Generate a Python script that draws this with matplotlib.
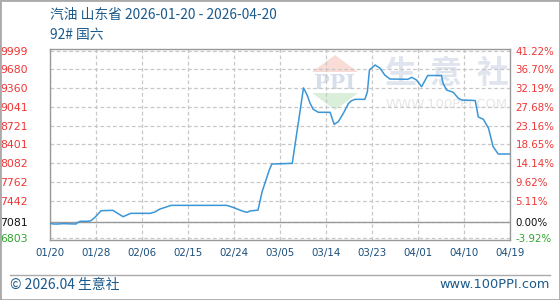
import matplotlib.pyplot as plt
from matplotlib.patches import Polygon, Rectangle
from matplotlib.lines import Line2D

plt.rcParams['font.family'] = ['Noto Sans CJK SC', 'DejaVu Sans']

title = '汽油 山东省 2026-01-20 - 2026-04-20'
subtitle = '92# 国六'

x_labels = ['01/20', '01/28', '02/06', '02/15', '02/24', '03/05',
            '03/14', '03/23', '04/01', '04/10', '04/19']
x_ticks = [0, 9, 18, 27, 36, 45, 54, 63, 72, 81, 90]

y_ticks = [6803, 7081, 7442, 7762, 8082, 8401, 8721, 9041, 9360, 9680, 9999]
pct_labels = ['-3.92%', '0.00%', '5.11%', '9.62%', '14.14%', '18.65%',
              '23.16%', '27.68%', '32.19%', '36.70%', '41.22%']
base_price = 7081

# position along the axis (trading-day index from 01/20) and price
days = [0, 0.6, 1.6, 2.5, 5.1, 5.3, 5.9, 7.4, 8.0, 8.5, 8.8, 10.0, 12.3,
        14.3, 15.8, 19.6, 20.5, 21.5, 22.7, 23.7, 34.6, 35.8, 36.8, 37.8,
        38.6, 39.1, 40.3, 40.7, 41.5, 42.9, 43.4, 47.4, 49.6, 50.3, 50.9,
        51.5, 52.5, 54.8, 55.6, 56.4, 57.4, 58.4, 59.0, 59.7, 61.6, 62.1,
        62.5, 63.6, 64.6, 65.5, 66.5, 70.0, 70.8, 71.7, 72.7, 73.9, 76.6,
        76.9, 77.6, 78.9, 79.9, 80.5, 83.2, 83.8, 84.8, 85.8, 86.7, 87.7, 90]
price = [7054, 7042, 7042, 7048, 7042, 7059, 7088, 7088, 7098, 7133, 7156,
         7269, 7275, 7167, 7224, 7224, 7246, 7297, 7331, 7360, 7360, 7326,
         7292, 7258, 7241, 7264, 7275, 7280, 7593, 7963, 8065, 8077, 9365,
         9243, 9101, 8999, 8948, 8948, 8743, 8787, 8931, 9101, 9146, 9169,
         9169, 9300, 9670, 9755, 9699, 9584, 9516, 9511, 9545, 9499, 9385,
         9576, 9576, 9442, 9328, 9289, 9187, 9158, 9149, 8868, 8828, 8675,
         8361, 8236, 8236]

W, H = 560, 300


def fx(px):
    return px / W


def fy(py):
    return 1 - py / H


def main():
    fig = plt.figure(figsize=(5.6, 3.0), dpi=100)
    ax = fig.add_axes([fx(50), fy(240), fx(510) - fx(50), fy(49.3) - fy(240)])
    ax.set_facecolor('none')

    ax.set_xlim(0, 90)
    ax.set_ylim(6769, 10023)
    ax.set_axisbelow(True)

    ax.plot(days, price, color='#3a96d6', lw=1.1, zorder=3)
    ax.axhline(base_price, color='#999999', lw=1.0, zorder=2)

    ax.set_xticks(x_ticks)
    ax.set_xticklabels(x_labels, family='DejaVu Sans', fontsize=7.4,
                       color='#1b4f7c')
    ax.set_yticks(y_ticks)
    ax.set_yticklabels([str(v) for v in y_ticks], family='DejaVu Sans',
                       fontsize=7.8)
    ax.tick_params(axis='x', length=0, pad=6)
    ax.tick_params(axis='y', length=0, pad=16)
    ax.grid(True, color='#c8c8c8', ls=(0, (3, 2)), lw=0.9)

    for sp in ax.spines.values():
        sp.set_color('#999999')
        sp.set_linewidth(1.0)

    ax2 = ax.twinx()
    ax2.set_ylim(ax.get_ylim())
    ax2.set_yticks(y_ticks)
    ax2.set_yticklabels(pct_labels, family='DejaVu Sans', fontsize=7.4)
    ax2.tick_params(axis='y', length=0, pad=4)
    for sp in ax2.spines.values():
        sp.set_visible(False)

    def colour(v):
        if v < base_price:
            return '#2ea52e'
        if v == base_price:
            return '#111111'
        return '#f03535'

    for lab, v in zip(ax.get_yticklabels(), y_ticks):
        lab.set_color(colour(v))
    for lab, v in zip(ax2.get_yticklabels(), y_ticks):
        lab.set_color(colour(v))

    # watermark logo
    tf = fig.transFigure
    ax.add_patch(Polygon([(fx(312), fy(72)), (fx(335), fy(55)),
                          (fx(358), fy(72))], closed=True, transform=tf,
                         fc='#f9dcd6', ec='none', zorder=0.1))
    ax.add_patch(Polygon([(fx(312), fy(93)), (fx(358), fy(93)),
                          (fx(335), fy(110))], closed=True, transform=tf,
                         fc='#d9efda', ec='none', zorder=0.1))
    ax.text(fx(335), fy(83), 'PPI', transform=tf, ha='center', va='center',
            fontsize=15, family='DejaVu Serif', weight='bold',
            color='#d6deec', zorder=0.1)
    for ch, cx in zip('生意社', [400, 446, 493]):
        ax.text(fx(cx), fy(74), ch, transform=tf, ha='center', va='center',
                fontsize=23, weight='bold', color='#dfe4ee', zorder=0.1)
    ax.text(fx(447), fy(105), 'WWW.100PPI.COM', transform=tf, ha='center',
            va='center', fontsize=9.5, family='DejaVu Sans',
            color='#e6e6e6', zorder=0.1)

    # header and footer
    fig.text(fx(50), fy(15), title, ha='left', va='center', fontsize=9.9,
             color='#1b5a8c')
    fig.text(fx(50), fy(35), subtitle, ha='left', va='center', fontsize=9.9,
             color='#1b5a8c')
    fig.text(fx(10), fy(285), '© 2026.04 生意社', ha='left', va='center',
             fontsize=10, color='#1b5a8c')
    fig.text(fx(550), fy(285), 'www.100PPI.com', ha='right', va='center',
             fontsize=9.3, family='DejaVu Sans', color='#1b5a8c')

    fig.add_artist(Line2D([fx(10), fx(550)], [fy(275), fy(275)],
                          color='#aaaaaa', lw=1.0))
    fig.add_artist(Rectangle((0, 0), 1, 1, transform=tf, fill=False,
                             ec='#aaaaaa', lw=2.0))

    fig.savefig('out.png', dpi=100)


if __name__ == '__main__':
    main()
